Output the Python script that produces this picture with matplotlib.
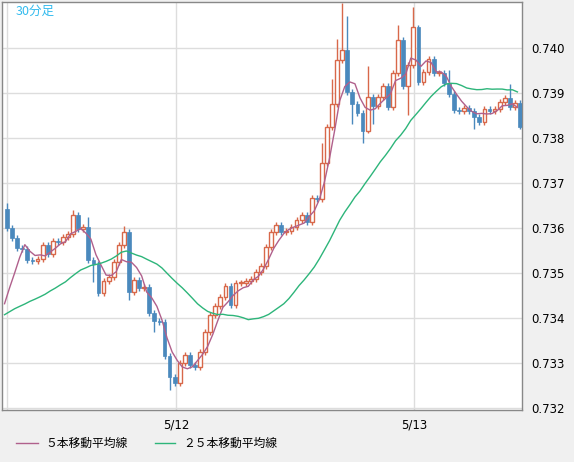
import matplotlib
matplotlib.use("Agg")
import matplotlib.pyplot as plt
import numpy as np
import pandas as pd

plt.rcParams['font.family'] = ['Noto Sans CJK JP', 'DejaVu Sans']

prior_closes = [0.7341, 0.7339, 0.7342, 0.7340, 0.7338, 0.7341, 0.7343, 0.7340, 0.7339, 0.7341,
                0.7340, 0.7342, 0.7339, 0.7338, 0.7340, 0.7341, 0.7339, 0.7340, 0.7341, 0.7339,
                0.7340, 0.7339, 0.7338, 0.7339]
first_open = 0.736422
closes = [0.736000, 0.735778, 0.735556, 0.735533, 0.735289, 0.735267, 0.735311, 0.735622, 0.735422, 0.735711,
          0.735689, 0.735800, 0.735867, 0.736289, 0.735978, 0.736022, 0.735289, 0.735200, 0.734556, 0.734822,
          0.734911, 0.735244, 0.735622, 0.735911, 0.734578, 0.734844, 0.734667, 0.734689, 0.734111, 0.733933,
          0.733911, 0.733156, 0.732689, 0.732556, 0.733000, 0.733178, 0.732956, 0.732911, 0.733244, 0.733689,
          0.734067, 0.734267, 0.734467, 0.734711, 0.734289, 0.734778, 0.734778, 0.734822, 0.734867, 0.735022,
          0.735156, 0.735578, 0.735911, 0.736067, 0.735911, 0.735933, 0.736022, 0.736178, 0.736289, 0.736133,
          0.736667, 0.736644, 0.737444, 0.738244, 0.738756, 0.739733, 0.739956, 0.739022, 0.738756, 0.738556,
          0.738156, 0.738911, 0.738711, 0.738911, 0.739156, 0.738689, 0.739444, 0.740178, 0.739156, 0.739622,
          0.740467, 0.739244, 0.739467, 0.739756, 0.739444, 0.739444, 0.739222, 0.738978, 0.738622, 0.738600,
          0.738667, 0.738600, 0.738467, 0.738356, 0.738644, 0.738600, 0.738644, 0.738800, 0.738889, 0.738689,
          0.738778, 0.738244]
long_highs = {0: 0.73655, 13: 0.73640, 16: 0.73625, 23: 0.73605, 62: 0.73790, 64: 0.73930, 65: 0.74020,
              66: 0.74100, 67: 0.74070, 71: 0.73960, 77: 0.74050, 80: 0.74090, 81: 0.74050, 87: 0.73950,
              99: 0.73920}
long_lows = {17: 0.73480, 24: 0.73440, 29: 0.73370, 32: 0.73240, 33: 0.73250, 68: 0.73830, 70: 0.73790,
             71: 0.73810, 72: 0.73830, 79: 0.73850, 92: 0.73820, 101: 0.73820}
ytick_vals = [0.732, 0.733, 0.734, 0.735, 0.736, 0.737, 0.738, 0.739, 0.740]
date_labels = ['5/12', '5/13']
date_pos = [33.3, 80.1]

opens = [first_open] + closes[:-1]
n = len(closes)
x = np.arange(n)
allc = pd.Series(prior_closes + closes)
ma5 = allc.rolling(5).mean().values[len(prior_closes):]
ma25 = allc.rolling(25, min_periods=1).mean().values[len(prior_closes):]

fig = plt.figure(figsize=(5.74, 4.62), dpi=100, facecolor='#f0f0f0')
ax = fig.add_axes([2/574, 52/462, 520/574, 408/462])
ax.set_facecolor('white')
ax.set_xlim(-1, 101.4)
ax.set_ylim(0.73196, 0.74102)
for yv in ytick_vals:
    ax.axhline(yv, color='#dddddd', lw=1, zorder=0)
for xv in [0] + date_pos:
    ax.axvline(xv, color='#dddddd', lw=1, zorder=0)

red = '#d8684a'
blue = '#4a89bd'
for i in range(n):
    o, c = opens[i], closes[i]
    hi = long_highs.get(i, max(o, c) + 0.00006)
    lo = long_lows.get(i, min(o, c) - 0.00006)
    col = red if c >= o else blue
    ax.vlines(i, lo, hi, color=col, lw=1, zorder=2)
    h = abs(c - o)
    if h < 0.00003:
        h = 0.00003
    if c >= o:
        ax.bar(i, h, 0.75, bottom=min(o, c), facecolor='white', edgecolor=red, lw=1, zorder=3)
    else:
        ax.bar(i, h, 0.75, bottom=min(o, c), facecolor=blue, edgecolor=blue, lw=0.5, zorder=3)

ax.plot(x - 0.5, ma5, color='#b0608c', lw=1, zorder=4)
ax.plot(x - 0.5, ma25, color='#2db57a', lw=1, zorder=4)

ax.yaxis.tick_right()
ax.set_yticks(ytick_vals)
ax.set_yticklabels([f'{v:.3f}' for v in ytick_vals], fontsize=8.5, family='DejaVu Sans')
ax.tick_params(axis='y', length=0, pad=7)
ax.set_xticks(date_pos)
ax.set_xticklabels(date_labels, fontsize=8.5, family='DejaVu Sans')
ax.tick_params(axis='x', length=0, pad=6)
for s in ax.spines.values():
    s.set_color('#888888')
    s.set_linewidth(1)

ax.text(0.026, 0.992, '30分足', transform=ax.transAxes, color='#33bbee', fontsize=9, va='top', ha='left')

fig.lines.append(plt.Line2D([16/574, 38/574], [1 - 443/462] * 2, color='#b0608c', lw=1, transform=fig.transFigure))
fig.text(45/574, 1 - 443/462, '５本移動平均線', fontsize=8.5, va='center')
fig.lines.append(plt.Line2D([155/574, 175/574], [1 - 443/462] * 2, color='#2db57a', lw=1, transform=fig.transFigure))
fig.text(183/574, 1 - 443/462, '２５本移動平均線', fontsize=8.5, va='center')

fig.savefig('out.png', dpi=100, facecolor=fig.get_facecolor())
